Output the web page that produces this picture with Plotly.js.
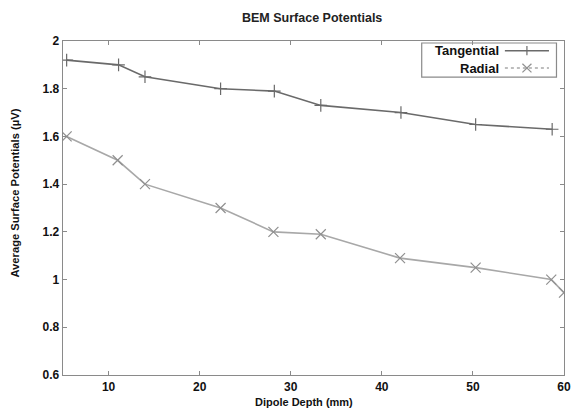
<!DOCTYPE html>
<html><head><meta charset="utf-8">
<script src="https://cdn.plot.ly/plotly-3.0.1.min.js"></script>
<style>html,body{margin:0;padding:0;background:#fff}#chart{width:574px;height:409px}</style>
</head><body><div id="chart"></div>
<script>
const depthTangential = [5.4, 11.1, 14.0, 22.3, 28.2, 33.3, 42.1, 50.3, 58.7];
const tangential = [1.92, 1.90, 1.85, 1.80, 1.79, 1.73, 1.70, 1.65, 1.63];
const depthRadial = [5.4, 11.0, 14.0, 22.3, 28.1, 33.3, 42.0, 50.3, 58.6, 60.0];
const radial = [1.60, 1.50, 1.40, 1.30, 1.20, 1.19, 1.09, 1.05, 1.00, 0.945];
const xTicks = [10, 20, 30, 40, 50, 60];
const yTicks = [0.6, 0.8, 1, 1.2, 1.4, 1.6, 1.8, 2];
const seriesNames = ['Tangential', 'Radial'];
const titleText = 'BEM Surface Potentials';
const xTitle = 'Dipole Depth (mm)';
const yTitle = 'Average Surface Potentials (µV)';

const fontFam = 'Liberation Sans, Arial, sans-serif';
const cTan = '#6a6a6a', cRad = '#a8a8a8', cAxis = '#8a8a8a';

const traces = [
  {x: depthTangential, y: tangential, name: seriesNames[0], mode: 'lines+markers',
   line: {color: cTan, width: 1.6}, marker: {symbol: 'cross-thin', size: 9, line: {color: cTan, width: 1.2}}},
  {x: depthRadial, y: radial, name: seriesNames[1], mode: 'lines+markers',
   line: {color: cRad, width: 1.6}, marker: {symbol: 'x-thin', size: 10, line: {color: '#909090', width: 1.2}}}
];

// manual gnuplot-style legend (text right, sample to the right)
const lx0 = 0.716, lx1 = 0.985, ly0 = 0.892, ly1 = 0.994;
const row1 = 0.971, row2 = 0.919;
const sx0 = 0.882, sx1 = 0.97, sm = 0.926;
const shapes = [
  {type: 'rect', xref: 'paper', yref: 'paper', x0: lx0, x1: lx1, y0: ly0, y1: ly1, line: {color: cAxis, width: 1.2}},
  {type: 'line', xref: 'paper', yref: 'paper', x0: sx0, x1: sx1, y0: row1, y1: row1, line: {color: cTan, width: 1.6}},
  {type: 'line', xref: 'paper', yref: 'paper', x0: sm, x1: sm, y0: row1 - 0.014, y1: row1 + 0.014, line: {color: cTan, width: 1.2}},
  {type: 'line', xref: 'paper', yref: 'paper', x0: sx0, x1: sx1, y0: row2, y1: row2, line: {color: cRad, width: 1.6, dash: 'dot'}},
  {type: 'line', xref: 'paper', yref: 'paper', x0: sm - 0.009, x1: sm + 0.009, y0: row2 - 0.013, y1: row2 + 0.013, line: {color: '#909090', width: 1.2}},
  {type: 'line', xref: 'paper', yref: 'paper', x0: sm - 0.009, x1: sm + 0.009, y0: row2 + 0.013, y1: row2 - 0.013, line: {color: '#909090', width: 1.2}}
];
const annotations = [
  {xref: 'paper', yref: 'paper', x: 0.874, y: row1, xanchor: 'right', yanchor: 'middle', showarrow: false,
   text: '<b>' + seriesNames[0] + '</b>', font: {family: fontFam, size: 13, color: '#111'}},
  {xref: 'paper', yref: 'paper', x: 0.874, y: row2, xanchor: 'right', yanchor: 'middle', showarrow: false,
   text: '<b>' + seriesNames[1] + '</b>', font: {family: fontFam, size: 13, color: '#111'}},
  // axis titles (placed like the gnuplot original)
  {xref: 'paper', yref: 'paper', x: -0.096, y: 0.546, xanchor: 'center', yanchor: 'middle', textangle: -90, showarrow: false,
   text: '<b>' + yTitle + '</b>', font: {family: fontFam, size: 11.2, color: '#111'}},
  {xref: 'paper', yref: 'paper', x: 0.482, y: -0.08, xanchor: 'center', yanchor: 'middle', showarrow: false,
   text: '<b>' + xTitle + '</b>', font: {family: fontFam, size: 11, color: '#111'}},
  {xref: 'paper', yref: 'paper', x: 0.497, y: 1.069, xanchor: 'center', yanchor: 'middle', showarrow: false,
   text: '<b>' + titleText + '</b>', font: {family: fontFam, size: 12.5, color: '#222'}}
];

const axisCommon = {
  showgrid: false, zeroline: false, showline: true, linecolor: cAxis, linewidth: 1.4,
  mirror: 'allticks', ticks: 'inside', ticklen: 4, tickcolor: cAxis, tickwidth: 1,
  tickfont: {family: fontFam, size: 12, color: '#111', weight: 'bold'}
};

const layout = {
  width: 574, height: 409,
  margin: {l: 63, r: 10, t: 41, b: 34},
  paper_bgcolor: '#fff', plot_bgcolor: '#fff',
  showlegend: false,
  xaxis: Object.assign({}, axisCommon, {range: [5, 60], tickvals: xTicks, ticktext: xTicks.map(String)}),
  yaxis: Object.assign({}, axisCommon, {range: [0.6, 2], tickvals: yTicks, ticktext: yTicks.map(String)}),
  shapes: shapes,
  annotations: annotations
};

Plotly.newPlot('chart', traces, layout, {displayModeBar: false, staticPlot: true});
</script>
</body></html>
